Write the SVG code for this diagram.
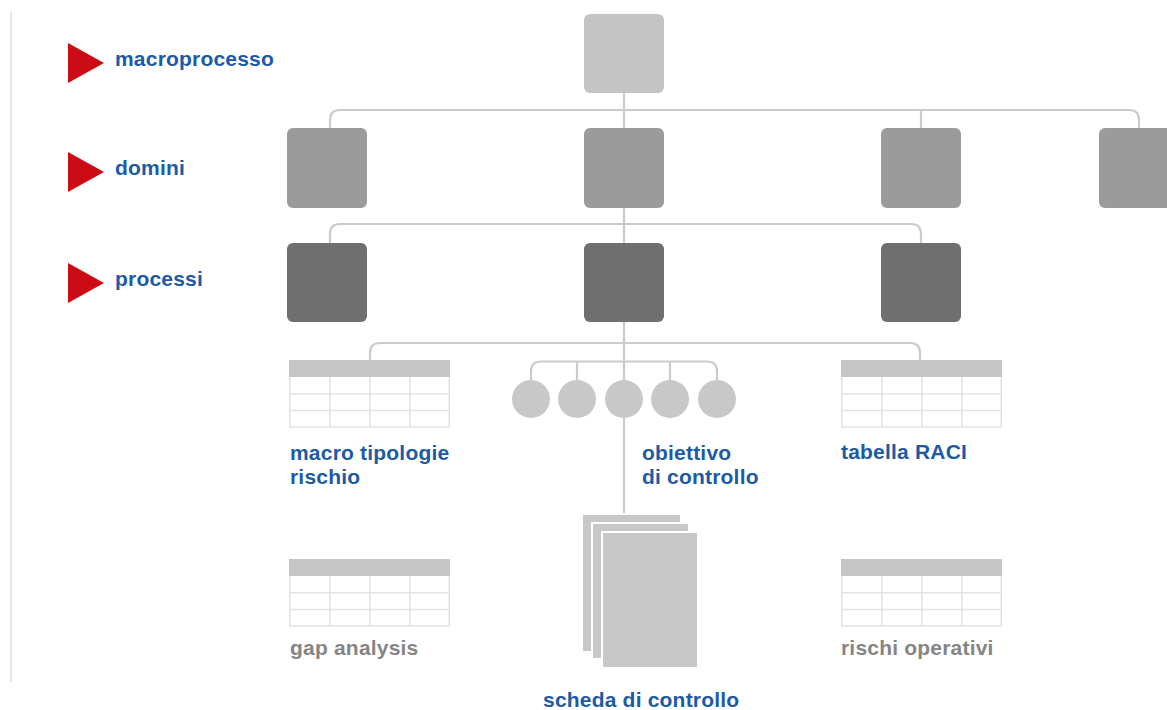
<svg xmlns="http://www.w3.org/2000/svg" width="1167" height="710" viewBox="0 0 1167 710">
<style>
.lbl{font-family:"Liberation Sans",Arial,sans-serif;font-weight:bold;font-size:21px;letter-spacing:0.2px;fill:#1d5aa6}
.gry{font-family:"Liberation Sans",Arial,sans-serif;font-weight:bold;font-size:21px;letter-spacing:0.2px;fill:#858585}
.con{fill:none;stroke:#cbcbcb;stroke-width:2.2}
.tri{fill:#cc0c14}
.m{fill:#c4c4c4}
.d{fill:#9b9b9b}
.p{fill:#6f6f6f}
.th{fill:#c6c6c6}
.tg{fill:none;stroke:#e2e2e2;stroke-width:1.5}
.ci{fill:#c8c8c8}
.sh{fill:#c8c8c8;stroke:#ffffff;stroke-width:2}
</style>
<defs>
<g id="table">
<rect x="0" y="0" width="161" height="17" class="th"/>
<path class="tg" d="M0.75,17 V67 H160.25 V17 M0,33.7 H161 M0,50.4 H161 M41,17 V67 M81,17 V67 M121,17 V67"/>
</g>
</defs>
<rect width="1167" height="710" fill="#ffffff"/>
<line x1="11" y1="12" x2="11" y2="682" stroke="#e6e6e6" stroke-width="2"/>

<g id="legend">
<polygon class="tri" points="68,43 104,63 68,83"/>
<text class="lbl" x="115" y="66">macroprocesso</text>
<polygon class="tri" points="68,152 104,172 68,192"/>
<text class="lbl" x="115" y="175">domini</text>
<polygon class="tri" points="68,263 104,283 68,303"/>
<text class="lbl" x="115" y="286">processi</text>
</g>

<g id="connectors">
<path class="con" d="M624,93 V515"/>
<path class="con" d="M330,128 V120 Q330,110 340,110 H1129 Q1139,110 1139,120 V128 M921,110 V128"/>
<path class="con" d="M330,243 V234 Q330,224 340,224 H911 Q921,224 921,234 V243"/>
<path class="con" d="M370,360 V353 Q370,343 380,343 H910 Q920,343 920,353 V360"/>
<path class="con" d="M531,380 V371 Q531,361.5 541,361.5 H707 Q717,361.5 717,371 V380 M577,361.5 V380 M670,361.5 V380"/>
</g>

<g id="n-macroprocesso"><rect class="m" x="584" y="14" width="80" height="79" rx="6"/></g>
<g id="n-dominio-1"><rect class="d" x="287" y="128" width="80" height="80" rx="6"/></g>
<g id="n-dominio-2"><rect class="d" x="584" y="128" width="80" height="80" rx="6"/></g>
<g id="n-dominio-3"><rect class="d" x="881" y="128" width="80" height="80" rx="6"/></g>
<g id="n-dominio-4"><rect class="d" x="1099" y="128" width="80" height="80" rx="6"/></g>
<g id="n-processo-1"><rect class="p" x="287" y="243" width="80" height="79" rx="6"/></g>
<g id="n-processo-2"><rect class="p" x="584" y="243" width="80" height="79" rx="6"/></g>
<g id="n-processo-3"><rect class="p" x="881" y="243" width="80" height="79" rx="6"/></g>

<g id="n-macro-tipologie">
<use href="#table" x="289" y="360"/>
<text class="lbl" x="290" y="460">macro tipologie</text>
<text class="lbl" x="290" y="484">rischio</text>
</g>

<g id="n-obiettivo">
<circle class="ci" cx="531" cy="399" r="19"/>
<circle class="ci" cx="577" cy="399" r="19"/>
<circle class="ci" cx="624" cy="399" r="19"/>
<circle class="ci" cx="670" cy="399" r="19"/>
<circle class="ci" cx="717" cy="399" r="19"/>
<line x1="624" y1="380" x2="624" y2="418" stroke="#cbcbcb" stroke-width="2.2"/>
<text class="lbl" x="642" y="460">obiettivo</text>
<text class="lbl" x="642" y="484">di controllo</text>
</g>

<g id="n-raci">
<use href="#table" x="841" y="360"/>
<text class="lbl" x="841" y="459">tabella RACI</text>
</g>

<g id="n-gap">
<use href="#table" x="289" y="559"/>
<text class="gry" x="290" y="655">gap analysis</text>
</g>

<g id="n-scheda">
<rect class="sh" x="582" y="514" width="99" height="138"/>
<rect class="sh" x="592" y="523" width="97" height="136"/>
<rect class="sh" x="602" y="532" width="96" height="136"/>
<text class="lbl" x="543" y="707">scheda di controllo</text>
</g>

<g id="n-rischi">
<use href="#table" x="841" y="559"/>
<text class="gry" x="841" y="655">rischi operativi</text>
</g>
</svg>
